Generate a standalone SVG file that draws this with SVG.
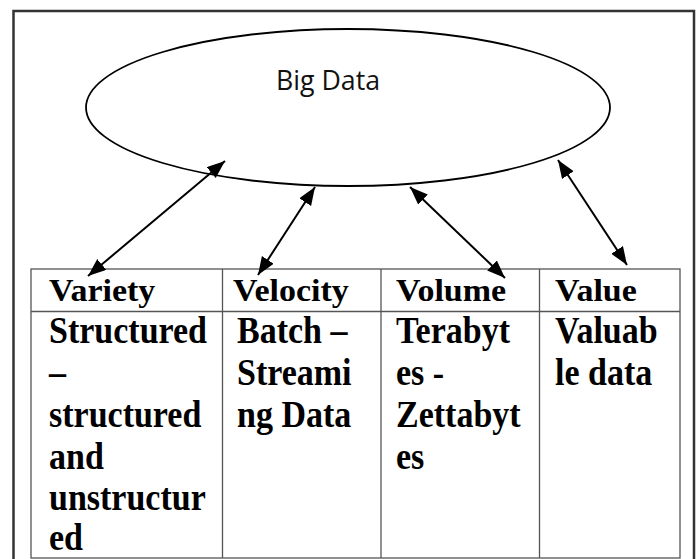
<svg xmlns="http://www.w3.org/2000/svg" width="699" height="559" viewBox="0 0 699 559">
  <style>
    .frame { fill: none; stroke: #333; stroke-width: 2.5; }
    .ell { fill: #fff; stroke: #000; stroke-width: 1.8; }
    .grid { fill: none; stroke: #555; stroke-width: 1.3; }
    .title { font-family: "Open Sans", "Noto Sans", sans-serif; font-size: 28px; fill: #111; }
    .cell { font-family: "Liberation Serif", "Times New Roman", serif; font-weight: bold; font-size: 34px; fill: #000; }
    .conn { stroke: #000; stroke-width: 2; fill: none; marker-start: url(#ah); marker-end: url(#ah); }
  </style>
  <defs>
    <marker id="ah" markerUnits="userSpaceOnUse" markerWidth="19" markerHeight="15" refX="18" refY="7" orient="auto-start-reverse" viewBox="0 0 19 15">
      <path d="M0,0 L18,7 L0,14 z" fill="#000"/>
    </marker>
  </defs>
  <rect width="699" height="559" fill="#fff"/>
  <rect id="frame" class="frame" x="13.5" y="11" width="680.5" height="600"/>

  <g id="big-data">
    <ellipse class="ell" cx="348" cy="107.5" rx="262" ry="78.5"/>
    <text class="title" x="276" y="90" textLength="104" lengthAdjust="spacingAndGlyphs">Big Data</text>
  </g>

  <g id="table">
    <rect class="grid" x="31" y="269" width="649" height="289"/>
    <line class="grid" x1="31" y1="311.5" x2="680" y2="311.5"/>
  </g>

  <g id="variety">
    <text class="cell" transform="matrix(1 0 0 0.95 49 301)">Variety</text>
    <text class="cell" transform="matrix(1 0 0 1.1 49 343)">Structured</text>
    <text class="cell" transform="matrix(1 0 0 1.1 49 385)">–</text>
    <text class="cell" transform="matrix(1 0 0 1.1 49 427)">structured</text>
    <text class="cell" transform="matrix(1 0 0 1.1 49 469)">and</text>
    <text class="cell" transform="matrix(1 0 0 1.1 49 510)">unstructur</text>
    <text class="cell" transform="matrix(1 0 0 1.1 49 550)">ed</text>
  </g>

  <g id="velocity">
    <line class="grid" x1="222.5" y1="269" x2="222.5" y2="558"/>
    <text class="cell" transform="matrix(1 0 0 0.95 233 301)">Velocity</text>
    <text class="cell" transform="matrix(1 0 0 1.1 237 343)">Batch –</text>
    <text class="cell" transform="matrix(1 0 0 1.1 237 385)">Streami</text>
    <text class="cell" transform="matrix(1 0 0 1.1 237 427)">ng Data</text>
  </g>

  <g id="volume">
    <line class="grid" x1="381" y1="269" x2="381" y2="558"/>
    <text class="cell" transform="matrix(1 0 0 0.95 396 301)">Volume</text>
    <text class="cell" transform="matrix(1 0 0 1.1 396 343)">Terabyt</text>
    <text class="cell" transform="matrix(1 0 0 1.1 396 385)">es -</text>
    <text class="cell" transform="matrix(1 0 0 1.1 396 427)">Zettabyt</text>
    <text class="cell" transform="matrix(1 0 0 1.1 396 469)">es</text>
  </g>

  <g id="value">
    <line class="grid" x1="539.5" y1="269" x2="539.5" y2="558"/>
    <text class="cell" transform="matrix(1 0 0 0.95 555 301)">Value</text>
    <text class="cell" transform="matrix(1 0 0 1.1 555 343)">Valuab</text>
    <text class="cell" transform="matrix(1 0 0 1.1 555 385)">le data</text>
  </g>

  <g id="connectors">
    <line class="conn" x1="225" y1="161" x2="88" y2="276"/>
    <line class="conn" x1="315" y1="187" x2="258" y2="275"/>
    <line class="conn" x1="410" y1="187" x2="505" y2="278"/>
    <line class="conn" x1="558" y1="160" x2="627" y2="265"/>
  </g>
</svg>
